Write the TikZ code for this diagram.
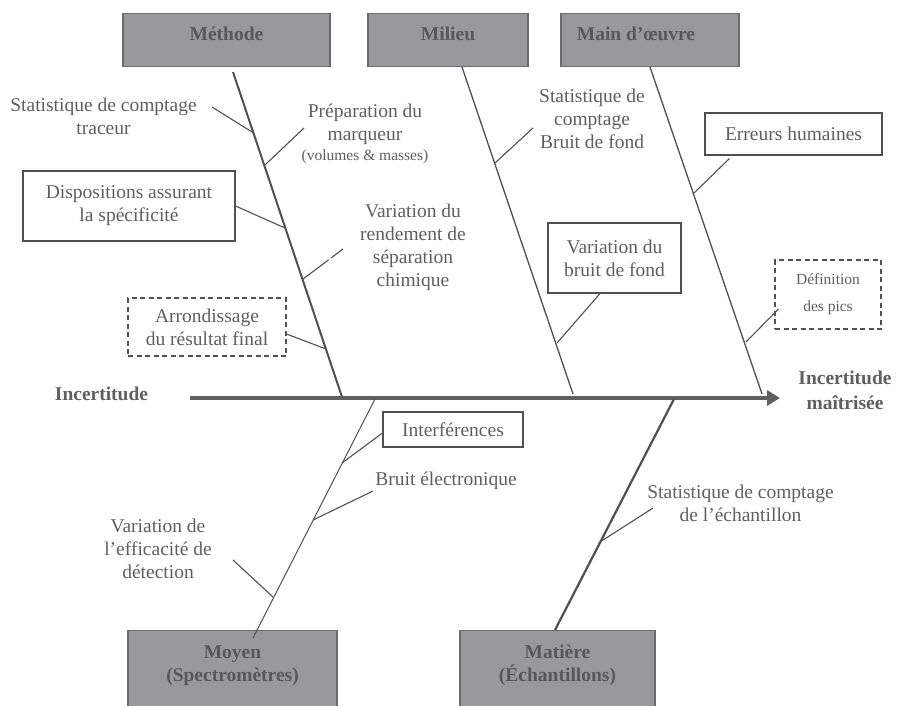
\documentclass[tikz,border=0pt]{standalone}
\usepackage{fontspec}
\setmainfont{Liberation Serif}
\usetikzlibrary{arrows.meta,positioning,calc}
\definecolor{inkgray}{RGB}{95,95,95}
\definecolor{linegray}{RGB}{80,80,80}
\definecolor{headfill}{RGB}{153,153,157}
\definecolor{headline}{RGB}{108,108,108}
\definecolor{headink}{RGB}{88,88,92}
\newcommand{\fishfont}{\fontsize{19.5pt}{23pt}\selectfont}
\newcommand{\notefont}{\fontsize{15.5pt}{19pt}\selectfont}

\begin{document}
\begin{tikzpicture}[x=1pt, y=-1pt, >=Latex, font=\fishfont, text=inkgray,
  head/.style={draw=headline, line width=1.3pt, fill=headfill, inner sep=0pt, anchor=north, font=\fishfont\bfseries, text=headink, text height=26.5pt, text depth=26.5pt},
  headlow/.style={head, align=center, text height=50.5pt, text depth=60pt},
  box/.style={draw=linegray, line width=1.1pt, fill=white, align=center, inner sep=0pt},
  dbox/.style={box, dash pattern=on 5pt off 3.5pt},
  lbl/.style={align=center, inner sep=0pt},
  bone/.style={draw=linegray, line width=1.3pt},
  rib/.style={draw=linegray, line width=1.1pt}]
\useasboundingbox (0,0) rectangle (898,705);
\clip (0,0) rectangle (898,705);

\node[head, minimum width=207pt] (methode) at (226.5,13) {Méthode};
\node[head, minimum width=160pt] (milieu) at (448,13) {Milieu};
\node[head, minimum width=178pt] (oeuvre) at (650,13) {Main d’œuvre\kern28pt};
\node[headlow, minimum width=209pt] (moyen) at (232.5,630) {Moyen\\(Spectromètres)};
\node[headlow, minimum width=195pt] (matiere) at (557.5,630) {Matière\\(Échantillons)};

\node[lbl, font=\fishfont\bfseries] (incert) at (101.5,394) {Incertitude};
\node[lbl, font=\fishfont\bfseries] (maitrisee) at (845,390.5) {Incertitude\\[2pt]maîtrisée};
\coordinate (tail) at (190,398);
\coordinate (tip) at (780,398);
\draw[line width=4.5pt, draw=inkgray, -{Triangle[length=13pt,width=15pt]}] (tail) -- (tip);

\coordinate (m0) at (233,72);
\coordinate (m1) at (342,397);
\coordinate (l0) at (462,67);
\coordinate (l1) at (573,394);
\coordinate (o0) at (650,67);
\coordinate (o1) at (762,394);
\coordinate (y0) at (375,399);
\coordinate (y1) at (253,638);
\coordinate (x0) at (674,399);
\coordinate (x1) at (555,630);
\draw[bone, line width=2pt] (m0) -- (m1);
\draw[bone] (l0) -- (l1);
\draw[bone] (o0) -- (o1);
\draw[bone, line width=1pt] (y0) -- (y1);
\draw[bone, line width=2.2pt] (x0) -- (x1);

\node[lbl] (traceur) at (103.5,116) {Statistique de comptage\\traceur};
\coordinate (t1) at (212,107);
\coordinate (t2) at (252,132);
\draw[rib] (t1) -- (t2);

\node[lbl] (prep) at (365,134) {Préparation du\\marqueur\\[-3pt]{\notefont(volumes \& masses)}};
\coordinate (p1) at (304,128);
\coordinate (p2) at (265,165);
\draw[rib] (p1) -- (p2);

\node[box, minimum width=212pt, minimum height=70pt] (disp) at (129,206) {Dispositions assurant\\la spécificité};
\coordinate (d2) at (285,228);
\draw[rib] (disp.east) -- (d2);

\node[lbl] (rend) at (413,247) {Variation du\\rendement de\\séparation\\chimique};
\coordinate (r1) at (343,249);
\coordinate (r2) at (303,279);
\draw[rib, dash pattern=on 15pt off 3pt on 60pt off 1pt] (r1) -- (r2);

\node[dbox, minimum width=158pt, minimum height=58pt] (arr) at (207,327) {Arrondissage\\du résultat final};
\coordinate (a2) at (326,349);
\draw[rib] ($(arr.east)+(0,7)$) -- (a2);

\node[lbl] (statbf) at (592,119) {Statistique de\\comptage\\Bruit de fond};
\coordinate (s1) at (533,128);
\coordinate (s2) at (495,163);
\draw[rib] (s1) -- (s2);

\node[box, minimum width=133pt, minimum height=70pt] (varbf) at (614.5,258) {Variation du\\bruit de fond};
\coordinate (v2) at (557,343);
\draw[rib] ($(varbf.south)+(-14.5,0)$) -- (v2);

\node[box, minimum width=177pt, minimum height=42pt] (erreurs) at (793.5,134) {Erreurs humaines};
\coordinate (e1) at ($(erreurs.south west)+(25,3)$);
\coordinate (e2) at (694,193);
\draw[rib] (e1) -- (e2);

\node[dbox, minimum width=106pt, minimum height=69pt, font=\notefont] (def) at (828,294.5) {Définition\\[8pt]des pics};
\coordinate (f2) at (746,342);
\draw[rib] ($(def.west)+(4,14.5)$) -- (f2);

\node[box, minimum width=140pt, minimum height=35pt] (interf) at (453,429.5) {Interférences};
\coordinate (i2) at (342,463);
\draw[rib] ($(interf.west)+(0,3.5)$) -- (i2);

\node[lbl] (elec) at (446,481) {Bruit électronique};
\coordinate (b1) at (373,491);
\coordinate (b2) at (313,520);
\draw[rib] (b1) -- (b2);

\node[lbl] (effic) at (158,549) {Variation de\\l’efficacité de\\détection};
\coordinate (c1) at (233,560);
\coordinate (c2) at (273,597);
\draw[rib] (c1) -- (c2);

\node[lbl] (stateh) at (740.5,503) {Statistique de comptage\\de l’échantillon};
\coordinate (h1) at (653,508);
\coordinate (h2) at (600,542);
\draw[rib] (h1) -- (h2);
\end{tikzpicture}
\end{document}
